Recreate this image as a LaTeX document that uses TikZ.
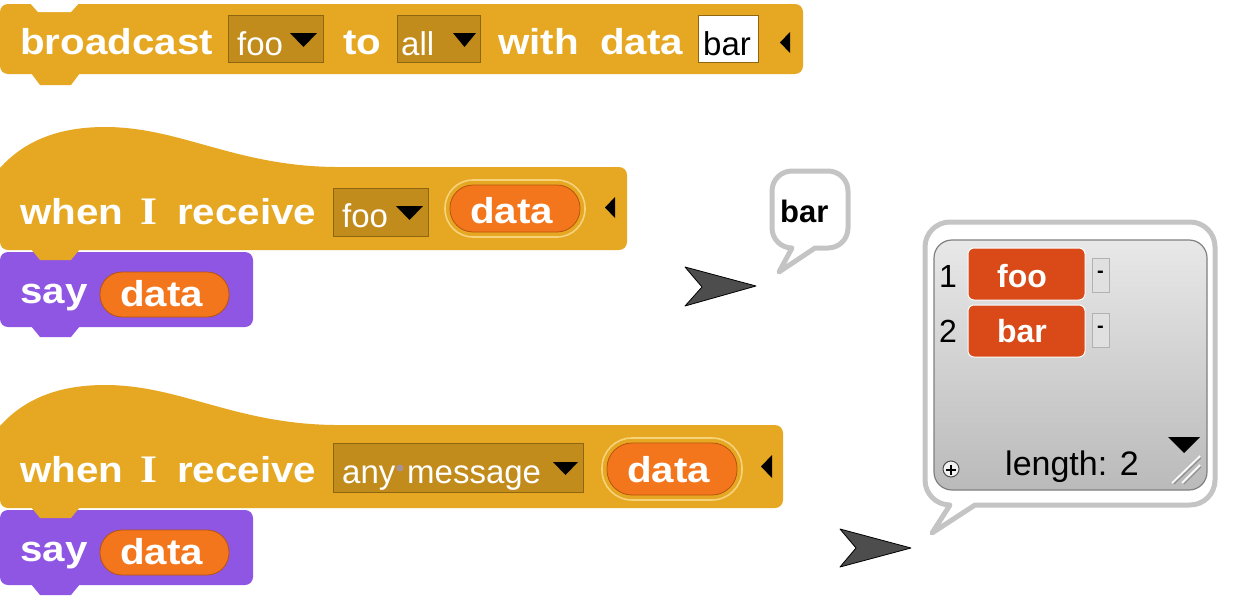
\documentclass[tikz,border=0pt]{standalone}
\usepackage{fontspec}
\setmainfont{Liberation Sans}
\newfontface\lblfont{Liberation Sans Bold}[FakeStretch=1.12]
\newfontface\serifbold{Liberation Serif Bold}[FakeStretch=1.12]
\definecolor{gold}{HTML}{E6A822}
\definecolor{golddark}{HTML}{C18C1C}
\definecolor{goldedge}{HTML}{8F6610}
\definecolor{goldlight}{HTML}{F6D27A}
\definecolor{purp}{HTML}{8E56E3}
\definecolor{purpedge}{HTML}{6A3CB0}
\definecolor{orng}{HTML}{F3761D}
\definecolor{orngdark}{HTML}{B8530C}
\definecolor{cellred}{HTML}{D94A18}
\definecolor{bubgray}{HTML}{C4C4C4}
\definecolor{arrowgray}{HTML}{4D4D4D}
\definecolor{dotgray}{HTML}{A8929A}
\begin{document}
\begin{tikzpicture}[x=1pt,y=-1pt,
  lbl/.style={anchor=base west,inner sep=0pt,text=white,font=\lblfont\fontsize{36}{40}\selectfont},
  ilbl/.style={anchor=base west,inner sep=0pt,text=white,font=\serifbold\fontsize{39}{42}\selectfont},
  ddtxt/.style={anchor=base west,inner sep=0pt,text=white,font=\fontsize{33}{36}\selectfont},
  ddbox/.style={draw=goldedge,fill=golddark,line width=1pt},
  pillshape/.style={fill=orng,draw=orngdark,line width=0.8pt},
  ringshape/.style={draw=goldlight,line width=1.6pt},
  bubble/.style={draw=bubgray,fill=white,line width=5pt,line join=round},
  arrowshape/.style={fill=arrowgray,draw=black,line width=0.8pt,line join=round},
  celltxt/.style={inner sep=0pt,anchor=base,text=white,font=\bfseries\fontsize{32}{36}\selectfont},
  numtxt/.style={inner sep=0pt,anchor=base west,text=black,font=\fontsize{32}{36}\selectfont},
  cellbox/.style={fill=cellred,draw=white,line width=1pt,rounded corners=6pt},
  minusbox/.style={fill=black!12,draw=black!30,line width=0.8pt}
]
\useasboundingbox (0,0) rectangle (1247,597);

% ---------- block 1: broadcast ----------
\fill[gold,rounded corners=8pt] (0,4) rectangle (803,74);
\fill[white] (29,2) -- (38,12) -- (71,12) -- (80,2) -- cycle;
\fill[gold] (31,73) -- (40,85) -- (71,85) -- (80,73) -- cycle;
\node[lbl] (b1lbl) at (20,54) {broadcast};
\draw[ddbox] (228,15) rectangle (323,62);
\node[ddtxt] (b1foo) at (237,55) {foo};
\fill[black] (290,33) -- (317,33) -- (303.5,47) -- cycle;
\node[lbl] (b1to) at (343,54) {to};
\draw[ddbox] (397,15) rectangle (480,62);
\node[ddtxt] (b1all) at (401,55) {all};
\fill[black] (453,33) -- (476,33) -- (464.5,47) -- cycle;
\node[lbl] (b1with) at (498,54) {with};
\node[lbl] (b1data) at (600,54) {data};
\draw[fill=white,draw=goldedge,line width=1pt] (698,15) rectangle (758,62);
\node[ddtxt,text=black] (b1bar) at (703,55) {bar};
\fill[black] (790,32) -- (790,53) -- (780,42.5) -- cycle;

% ---------- block 2: when I receive foo ----------
\fill[gold,rounded corners=8pt] (0,167) rectangle (627,250);
\fill[gold] (0,182) -- (0,168) .. controls (25,140) and (60,127) .. (105,127) .. controls (180,127) and (235,166) .. (335,167) -- (335,182) -- cycle;
\node[lbl] (b2when) at (20,224) {when};
\node[ilbl] (b2i) at (140,224) {I};
\node[lbl] (b2rec) at (177,224) {receive};
\draw[ddbox] (333,188) rectangle (428,236);
\node[ddtxt] (b2foo) at (342,227) {foo};
\fill[black] (396,206) -- (423,206) -- (409.5,220) -- cycle;
\draw[ringshape,rounded corners=28pt] (445,180) rectangle (585,237);
\filldraw[pillshape,rounded corners=23pt] (450,185) rectangle (580,232);
\node[lbl] (b2data) at (470,223) {data};
\fill[black] (615,197) -- (615,218) -- (605,207.5) -- cycle;
% say block
\fill[purp,rounded corners=8pt] (0,252) rectangle (253,327);
\fill[gold] (31,249) -- (40,260) -- (71,260) -- (80,249) -- cycle;
\fill[purp] (31,326) -- (40,337) -- (71,337) -- (80,326) -- cycle;
\node[lbl] (s1lbl) at (20,303) {say};
\filldraw[pillshape,rounded corners=22pt] (100,272) rectangle (229,317);
\node[lbl] (s1data) at (120,306) {data};

% ---------- block 3: when I receive any message ----------
\begin{scope}[shift={(0,258)}]
\fill[gold,rounded corners=8pt] (0,167) rectangle (783,250);
\fill[gold] (0,182) -- (0,168) .. controls (25,140) and (60,127) .. (105,127) .. controls (180,127) and (235,166) .. (335,167) -- (335,182) -- cycle;
\node[lbl] (b3when) at (20,224) {when};
\node[ilbl] (b3i) at (140,224) {I};
\node[lbl] (b3rec) at (177,224) {receive};
\draw[ddbox] (333,185) rectangle (583,234);
\node[ddtxt] (b3any) at (342,225) {any};
\fill[dotgray] (400,210) circle[radius=3.5];
\node[ddtxt] (b3msg) at (407,225) {message};
\fill[black] (553,204) -- (578,204) -- (565.5,217) -- cycle;
\draw[ringshape,rounded corners=30pt] (602,180) rectangle (742,242);
\filldraw[pillshape,rounded corners=25pt] (607,185) rectangle (737,237);
\node[lbl] (b3data) at (627,224) {data};
\fill[black] (772,197) -- (772,220) -- (761,208.5) -- cycle;
% say block
\fill[purp,rounded corners=8pt] (0,252) rectangle (253,327);
\fill[gold] (31,249) -- (40,260) -- (71,260) -- (80,249) -- cycle;
\fill[purp] (31,326) -- (40,337) -- (71,337) -- (80,326) -- cycle;
\node[lbl] (s2lbl) at (20,303) {say};
\filldraw[pillshape,rounded corners=22pt] (100,272) rectangle (229,317);
\node[lbl] (s2data) at (120,306) {data};
\end{scope}

% ---------- arrows ----------
\filldraw[arrowshape] (685,267) -- (756,286) -- (685,306) -- (702,287) -- cycle;
\filldraw[arrowshape] (840,529) -- (911,548) -- (840,567) -- (856,548) -- cycle;

% ---------- speech bubble 1 ----------
\draw[bubble] (792,171) -- (828,171) arc[start angle=-90,end angle=0,radius=20]
  -- (848,228) arc[start angle=0,end angle=90,radius=20]
  -- (815,248) -- (779,272) -- (792,248)
  arc[start angle=90,end angle=180,radius=20]
  -- (772,191) arc[start angle=180,end angle=270,radius=20] -- cycle;
\node[inner sep=0pt,anchor=base west,font=\bfseries\fontsize{31}{34}\selectfont] (bub1txt) at (780,222) {bar};

% ---------- speech bubble 2 with list ----------
\draw[bubble] (950,222) -- (1190,222) arc[start angle=-90,end angle=0,radius=25]
  -- (1215,480) arc[start angle=0,end angle=90,radius=25]
  -- (975,505) -- (932,533) -- (950,505)
  arc[start angle=90,end angle=180,radius=25]
  -- (925,247) arc[start angle=180,end angle=270,radius=25] -- cycle;
\shade[top color=black!9,bottom color=black!27,rounded corners=18pt] (934,240) rectangle (1207,490);
\draw[black!50,line width=1.2pt,rounded corners=18pt] (934,240) rectangle (1207,490);
\node[numtxt] (n1) at (939,287) {1};
\filldraw[cellbox] (968,248) rectangle (1085,300);
\node[celltxt] (c1) at (1022,287) {foo};
\filldraw[minusbox] (1092,258) rectangle (1109,292);
\node[inner sep=0pt,font=\bfseries\fontsize{20}{22}\selectfont] (m1) at (1100.5,274) {-};
\node[numtxt] (n2) at (939,342) {2};
\filldraw[cellbox] (968,305) rectangle (1085,357);
\node[celltxt] (c2) at (1022,342) {bar};
\filldraw[minusbox] (1092,313) rectangle (1109,347);
\node[inner sep=0pt,font=\bfseries\fontsize{20}{22}\selectfont] (m2) at (1100.5,329) {-};
\node[numtxt,font=\fontsize{34}{38}\selectfont] (len) at (1005,475) {length: 2};
\draw[black!70,fill=black!5,line width=1pt] (951,469) circle[radius=8];
\draw[black,line width=1.6pt] (946,470) -- (956,470) (951,465) -- (951,475);
\fill[black] (1168,437) -- (1200,437) -- (1184,453) -- cycle;
\draw[white,line width=1.5pt] (1172,483) -- (1200,456) (1182,483) -- (1200,465);
\draw[black!45,line width=1pt] (1174,484) -- (1201,458) (1184,484) -- (1201,467);
\end{tikzpicture}
\end{document}
